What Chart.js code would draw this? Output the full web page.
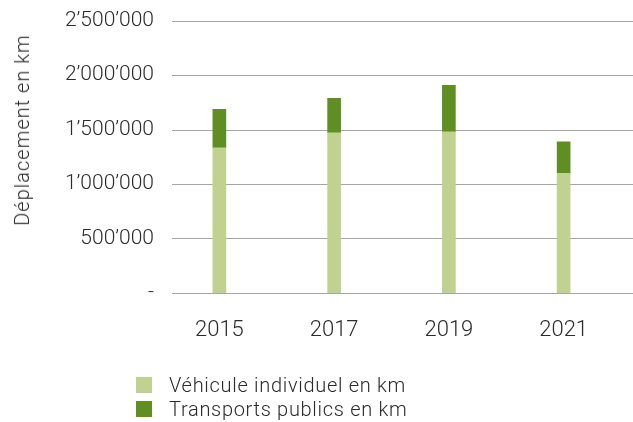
<!DOCTYPE html>
<html>
<head>
<meta charset="utf-8">
<script src="https://cdn.jsdelivr.net/npm/chart.js@4"></script>
<style>
  body{margin:0;background:#fff;font-family:Roboto,"Liberation Sans",sans-serif;font-weight:300;color:#2b2b2b;}
  #wrap{position:relative;width:633px;height:422px;}
  #ytitle{position:absolute;left:22px;top:130px;transform:translate(-50%,-50%) rotate(-90deg);white-space:nowrap;font-size:20px;letter-spacing:1px;}
  #legend{position:absolute;left:136px;top:373px;font-size:20px;letter-spacing:0.7px;}
  #legend div{display:flex;align-items:center;height:24px;}
  #legend span.sw{display:inline-block;width:16px;height:16px;margin-right:17px;}
</style>
</head>
<body>
<div id="wrap">
  <canvas id="c" width="633" height="422"></canvas>
  <div id="ytitle">Déplacement en km</div>
  <div id="legend"></div>
</div>
<script>
/* -------------------------- data -------------------------- */
const years      = ["2015","2017","2019","2021"];
const vehicule   = [1333000,1471000,1480000,1099000];
const transports = [352000,317000,427000,289000];
const seriesNames = ["Véhicule individuel en km","Transports publics en km"];
const COLORS = ["#c1d18f","#5f8f22"];

function fmt(v){
  if(v===0) return "-";
  return String(v).replace(/\B(?=(\d{3})+(?!\d))/g,"\u2019");
}

// horizontal grid lines, starting a bit right of the plot edge and running to the canvas edge
const gridLines={
  id:"gridLines",
  beforeDatasetsDraw(chart){
    const {ctx,chartArea,scales:{y}}=chart;
    ctx.save();
    ctx.strokeStyle="#a6a6a6"; ctx.lineWidth=1.2;
    y.ticks.forEach(t=>{
      const py=Math.round(y.getPixelForValue(t.value))+0.5;
      ctx.beginPath(); ctx.moveTo(chartArea.left+10,py); ctx.lineTo(chart.width,py); ctx.stroke();
    });
    ctx.restore();
  }
};

const datasets=[
  {label:seriesNames[0],data:vehicule,backgroundColor:COLORS[0],stack:"S",barThickness:13},
  {label:seriesNames[1],data:transports,backgroundColor:COLORS[1],stack:"S",barThickness:13}
];

new Chart(document.getElementById("c"),{
  type:"bar",
  data:{labels:years,datasets},
  plugins:[gridLines],
  options:{
    responsive:false,animation:false,
    layout:{padding:{top:20.7,right:12,bottom:62.7,left:0}},
    plugins:{legend:{display:false},tooltip:{enabled:false}},
    scales:{
      x:{stacked:true,grid:{display:false},border:{display:false},
         ticks:{color:"#2b2b2b",padding:16,font:{family:"Roboto",weight:300,size:22}}},
      y:{stacked:true,min:0,max:2500000,grid:{display:false},border:{display:false},
         afterFit(s){ s.width=162; },
         ticks:{stepSize:500000,color:"#2b2b2b",padding:0,font:{family:"Roboto",weight:300,size:21},callback:v=>fmt(v)}}
    }
  }
});

document.getElementById("legend").innerHTML=seriesNames.map((n,i)=>
  `<div><span class="sw" style="background:${COLORS[i]}"></span>${n}</div>`).join("");
</script>
</body>
</html>
